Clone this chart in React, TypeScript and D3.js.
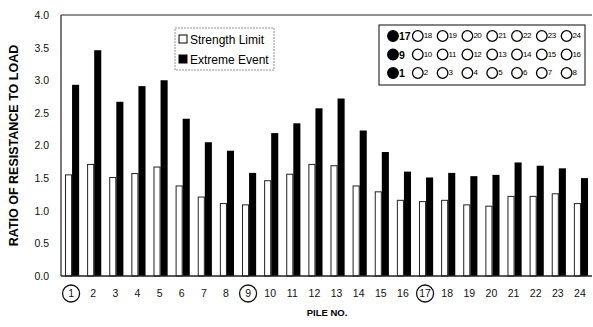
import React, { useEffect, useRef } from 'react';
import * as d3 from 'd3';

const piles = ['1', '2', '3', '4', '5', '6', '7', '8', '9', '10', '11', '12', '13', '14', '15', '16', '17', '18', '19', '20', '21', '22', '23', '24'];
const strengthLimit = [1.55, 1.71, 1.51, 1.57, 1.67, 1.38, 1.21, 1.11, 1.09, 1.46, 1.56, 1.71, 1.69, 1.38, 1.29, 1.16, 1.14, 1.16, 1.09, 1.07, 1.22, 1.22, 1.26, 1.11];
const extremeEvent = [2.93, 3.46, 2.67, 2.91, 3.0, 2.41, 2.05, 1.92, 1.58, 2.19, 2.34, 2.57, 2.72, 2.23, 1.9, 1.6, 1.51, 1.58, 1.53, 1.55, 1.74, 1.69, 1.65, 1.5];
const yTicks = [0, 0.5, 1, 1.5, 2, 2.5, 3, 3.5, 4];
const circledPiles = ['1', '9', '17'];
const layoutRows = [
  ['17', '18', '19', '20', '21', '22', '23', '24'],
  ['9', '10', '11', '12', '13', '14', '15', '16'],
  ['1', '2', '3', '4', '5', '6', '7', '8'],
];
const seriesNames = ['Strength Limit', 'Extreme Event'];

const W = 593;
const H = 327;

const App = () => {
  const ref = useRef<SVGSVGElement>(null);

  useEffect(() => {
    const svg = d3.select(ref.current);
    svg.selectAll('*').remove();

    const margin = { top: 15, right: 1, bottom: 51, left: 61 };
    const font = 'Liberation Sans, Arial, sans-serif';

    const x0 = d3.scaleBand()
      .domain(piles)
      .range([margin.left, W - margin.right])
      .paddingInner(0.36)
      .paddingOuter(0.18);

    const x1 = d3.scaleBand()
      .domain(seriesNames)
      .range([0, x0.bandwidth()]);

    const y = d3.scaleLinear()
      .domain([0, 4])
      .range([H - margin.bottom, margin.top]);

    const g = svg.append('g');

    // Bars
    const groups = g.selectAll('.grp')
      .data(piles)
      .enter()
      .append('g')
      .attr('transform', d => `translate(${x0(d)},0)`);

    groups.append('rect')
      .attr('x', x1('Strength Limit')! + 0.5)
      .attr('y', (d, i) => y(strengthLimit[i]))
      .attr('width', x1.bandwidth() - 1)
      .attr('height', (d, i) => y(0) - y(strengthLimit[i]))
      .attr('fill', '#fff')
      .attr('stroke', '#222')
      .attr('stroke-width', 1);

    groups.append('rect')
      .attr('x', x1('Extreme Event')!)
      .attr('y', (d, i) => y(extremeEvent[i]))
      .attr('width', x1.bandwidth())
      .attr('height', (d, i) => y(0) - y(extremeEvent[i]))
      .attr('fill', '#000');

    // Frame
    g.append('line')
      .attr('x1', margin.left).attr('x2', W - margin.right)
      .attr('y1', y(4)).attr('y2', y(4))
      .attr('stroke', '#222').attr('stroke-width', 1.2);
    g.append('line')
      .attr('x1', margin.left).attr('x2', margin.left)
      .attr('y1', y(4)).attr('y2', y(0))
      .attr('stroke', '#222').attr('stroke-width', 1.2);
    g.append('line')
      .attr('x1', margin.left).attr('x2', W - margin.right)
      .attr('y1', y(0)).attr('y2', y(0))
      .attr('stroke', '#222').attr('stroke-width', 1.5);

    // Y axis
    const yAxis = d3.axisLeft(y)
      .tickValues(yTicks)
      .tickSize(0)
      .tickPadding(12)
      .tickFormat(d3.format('.1f'));
    const ya = g.append('g')
      .attr('transform', `translate(${margin.left},0)`)
      .call(yAxis);
    ya.select('.domain').remove();
    ya.selectAll('text')
      .style('font-family', font)
      .style('font-size', '10.5px')
      .style('fill', '#111');

    // X axis labels
    const xa = g.append('g');
    xa.selectAll('text')
      .data(piles)
      .enter()
      .append('text')
      .attr('x', d => x0(d)! + x0.bandwidth() / 2 - 1)
      .attr('y', y(0) + 21)
      .attr('text-anchor', 'middle')
      .style('font-family', font)
      .style('font-size', '10.5px')
      .style('fill', '#111')
      .text(d => d);
    xa.selectAll('circle')
      .data(circledPiles)
      .enter()
      .append('circle')
      .attr('cx', d => x0(d)! + x0.bandwidth() / 2 - 1)
      .attr('cy', y(0) + 17.5)
      .attr('r', 8.5)
      .attr('fill', 'none')
      .attr('stroke', '#111')
      .attr('stroke-width', 1.3);

    // Axis titles
    g.append('text')
      .attr('x', 327)
      .attr('y', 316)
      .attr('text-anchor', 'middle')
      .style('font-family', font)
      .style('font-size', '9.5px')
      .style('font-weight', 'bold')
      .text('PILE NO.');

    g.append('text')
      .attr('transform', `translate(18,${(y(0) + y(4)) / 2}) rotate(-90)`)
      .attr('text-anchor', 'middle')
      .style('font-family', font)
      .style('font-size', '12.5px')
      .style('font-weight', 'bold')
      .text('RATIO OF RESISTANCE TO LOAD');

    // Series legend
    const leg = g.append('g').attr('transform', 'translate(175,28)');
    leg.append('rect')
      .attr('width', 99).attr('height', 42)
      .attr('fill', '#fff')
      .attr('stroke', '#777')
      .attr('stroke-width', 0.8)
      .attr('stroke-dasharray', '2,1');
    const items = leg.selectAll('.it')
      .data(seriesNames)
      .enter()
      .append('g')
      .attr('transform', (d, i) => `translate(4,${7 + i * 20})`);
    items.append('rect')
      .attr('width', 8).attr('height', 8)
      .attr('fill', (d, i) => (i === 0 ? '#fff' : '#000'))
      .attr('stroke', '#000')
      .attr('stroke-width', 1);
    items.append('text')
      .attr('x', 11).attr('y', 8.5)
      .style('font-family', font)
      .style('font-size', '12px')
      .text(d => d);

    // Pile layout legend
    const lay = g.append('g').attr('transform', 'translate(379,25)');
    lay.append('rect')
      .attr('width', 206).attr('height', 60)
      .attr('fill', '#fff')
      .attr('stroke', '#333')
      .attr('stroke-width', 1.2);
    layoutRows.forEach((row, ri) => {
      const cy = 11 + ri * 18.5;
      row.forEach((p, ci) => {
        const cx = 14 + ci * 24.8;
        const first = ci === 0;
        lay.append('circle')
          .attr('cx', cx).attr('cy', cy)
          .attr('r', 5.3)
          .attr('fill', first ? '#000' : '#fff')
          .attr('stroke', '#000')
          .attr('stroke-width', 1.3);
        lay.append('text')
          .attr('x', cx + 6)
          .attr('y', first ? cy + 4 : cy + 2)
          .style('font-family', font)
          .style('font-size', first ? '10.5px' : '8px')
          .style('font-weight', first ? 'bold' : 'normal')
          .style('letter-spacing', first ? '0px' : '-0.5px')
          .text(p);
      });
    });
  }, []);

  return (
    <svg
      ref={ref}
      width={W}
      height={H}
      style={{ position: 'absolute', left: 0, top: 0, background: '#fff' }}
    />
  );
};

export default App;
